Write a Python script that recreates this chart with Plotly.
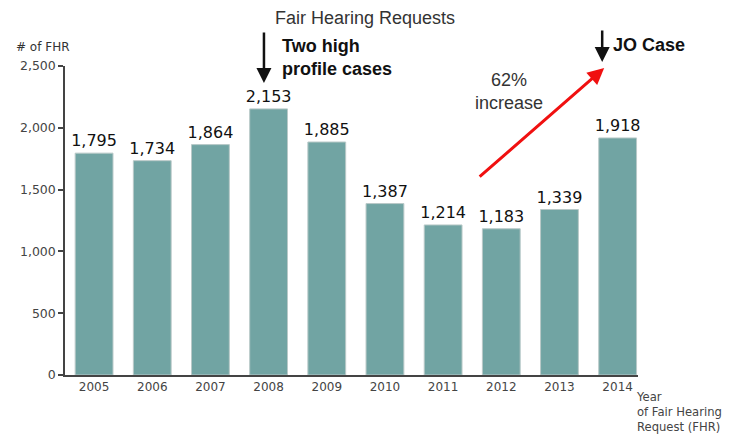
import plotly.graph_objects as go

years = ["2005", "2006", "2007", "2008", "2009", "2010", "2011", "2012", "2013", "2014"]
requests = [1795, 1734, 1864, 2153, 1885, 1387, 1214, 1183, 1339, 1918]
y_ticks = [0, 500, 1000, 1500, 2000, 2500]

OFF = 8  # page body margin
W, H = 731 - OFF, 434 - OFF
L, T = 62 - OFF, 66 - OFF
PR, PB = 638 - OFF, 375 - OFF
R, B = W - PR, H - PB
pw, ph = PR - L, PB - T

def px(x):
    return (x - OFF - L) / pw

def py(y):
    return (PB - (y - OFF)) / ph

fig = go.Figure()
fig.add_trace(go.Bar(
    x=years, y=requests,
    marker=dict(color="#71a4a3", line=dict(color="#b9c9c8", width=1)),
    text=[f"{v:,}" for v in requests],
    textposition="outside",
    constraintext="none",
    textfont=dict(family="DejaVu Sans", size=16, color="#111"),
    cliponaxis=False,
    hoverinfo="skip",
))

sans = "Liberation Sans"
ann = []
ann.append(dict(text="Fair Hearing Requests", x=px(364), y=py(18), xref="paper", yref="paper",
                showarrow=False, font=dict(family=sans, size=18, color="#333"),
                xanchor="center", yanchor="middle"))
ann.append(dict(text="<b>Two high<br>profile cases</b>", x=px(278), y=py(57), xref="paper", yref="paper",
                showarrow=False, font=dict(family=sans, size=18, color="#111"),
                xanchor="left", yanchor="middle", align="left"))
ann.append(dict(text="<b>JO Case</b>", x=px(611), y=py(45), xref="paper", yref="paper",
                showarrow=False, font=dict(family=sans, size=18, color="#111"),
                xanchor="left", yanchor="middle", align="left"))
ann.append(dict(text="62%<br>increase", x=px(508), y=py(91), xref="paper", yref="paper",
                showarrow=False, font=dict(family=sans, size=18, color="#333"),
                xanchor="center", yanchor="middle", align="center"))
ann.append(dict(text="# of FHR", x=px(11), y=py(47), xref="paper", yref="paper",
                showarrow=False, font=dict(family="DejaVu Sans", size=12, color="#333"),
                xanchor="left", yanchor="middle"))
ann.append(dict(text="Year<br>of Fair Hearing<br>Request (FHR)", x=px(634), y=py(388), xref="paper", yref="paper",
                showarrow=False, font=dict(family="DejaVu Sans", size=11.6, color="#444"),
                xanchor="left", yanchor="top", align="left"))
# arrows
ann.append(dict(text="", x=px(262), y=py(83), xref="paper", yref="paper", showarrow=True,
                ax=0, ay=-52, arrowhead=2, arrowsize=1.2, arrowwidth=2.5, arrowcolor="#111"))
ann.append(dict(text="", x=px(602), y=py(62), xref="paper", yref="paper", showarrow=True,
                ax=0, ay=-33, arrowhead=2, arrowsize=1.2, arrowwidth=2.5, arrowcolor="#111"))
ann.append(dict(text="", x=px(604), y=py(68), xref="paper", yref="paper", showarrow=True,
                ax=-126, ay=110, arrowhead=2, arrowsize=1.1, arrowwidth=3, arrowcolor="#f01010"))

fig.update_layout(
    width=W, height=H,
    margin=dict(l=L, r=R, t=T, b=B),
    paper_bgcolor="white", plot_bgcolor="white",
    showlegend=False,
    bargap=0.35,
    annotations=ann,
    font=dict(family="DejaVu Sans", size=12, color="#444"),
)
fig.update_xaxes(
    type="category", range=[-0.5, 9.35],
    showline=True, linecolor="#444", linewidth=1.5,
    ticks="", showgrid=False,
    tickfont=dict(family="DejaVu Sans", size=12, color="#444"),
)
fig.update_yaxes(
    range=[0, 2500], tickvals=y_ticks, tickformat=",",
    showline=True, linecolor="#444", linewidth=1.5,
    ticks="outside", ticklen=5, tickcolor="#444", tickwidth=1.5,
    showgrid=False, zeroline=False,
    tickfont=dict(family="DejaVu Sans", size=12.5, color="#444"),
)

fig.write_html("out.html")
